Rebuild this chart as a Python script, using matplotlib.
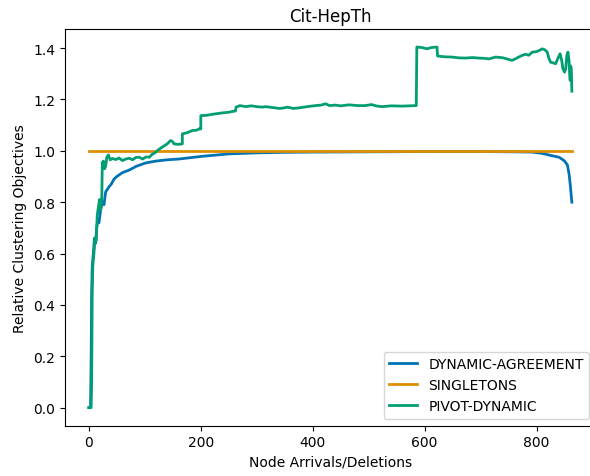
import numpy as np
import matplotlib
matplotlib.use("Agg")
import matplotlib.pyplot as plt

# values
agree_x = [0, 3, 4, 5, 6, 8, 10, 12, 14, 16, 18, 21, 24, 27, 30, 33, 36, 40, 45, 50,
           60, 72, 85, 102, 120, 140, 161, 200, 250, 300, 350, 400, 500, 600, 700,
           760, 792, 810, 827, 840, 845, 850, 855, 858, 860, 863]
agree_y = [0, 0, 0.18, 0.45, 0.55, 0.60, 0.66, 0.64, 0.70, 0.73, 0.72, 0.77, 0.80, 0.79,
           0.84, 0.85, 0.86, 0.87, 0.89, 0.90, 0.915, 0.925, 0.94, 0.953, 0.96, 0.965,
           0.968, 0.978, 0.988, 0.992, 0.994, 0.995, 0.996, 0.997, 0.997, 0.996, 0.995,
           0.99, 0.981, 0.975, 0.968, 0.96, 0.945, 0.91, 0.87, 0.80]

single_x = [0, 863]
single_y = [1.0, 1.0]

pivot_x = [0, 4, 5, 6, 7, 9, 11, 13, 15, 17, 19, 21, 23, 24, 26, 28, 30, 32, 35, 38,
           42, 48, 54, 60, 66, 72, 78, 84, 90, 96, 102, 108, 114, 118, 122, 126, 131,
           135, 140, 146, 150, 152, 160, 167, 167, 175, 185, 192, 197, 200, 200, 210,
           220, 230, 240, 250, 256, 262, 263, 270, 280, 290, 300, 310, 316, 322, 330,
           340, 346, 355, 365, 375, 390, 405, 415, 423, 430, 440, 450, 465, 480, 494,
           505, 515, 524, 540, 560, 575, 585, 586, 595, 604, 612, 622, 623, 635, 649,
           660, 673, 685, 697, 706, 715, 727, 740, 750, 756, 762, 768, 774, 780, 786,
           792, 800, 806, 810, 815, 819, 822, 825, 830, 834, 838, 842, 845, 847, 850,
           852, 854, 856, 858, 859, 860, 861, 862, 863]
pivot_y = [0, 0, 0.10, 0.45, 0.55, 0.60, 0.66, 0.65, 0.75, 0.78, 0.81, 0.77, 0.80, 0.955,
           0.96, 0.93, 0.94, 0.975, 0.984, 0.965, 0.97, 0.966, 0.972, 0.962, 0.968,
           0.971, 0.965, 0.974, 0.975, 0.968, 0.976, 0.975, 0.988, 0.992, 1.0, 1.007,
           1.014, 1.02, 1.027, 1.04, 1.035, 1.027, 1.025, 1.027, 1.066, 1.07, 1.079,
           1.08, 1.085, 1.085, 1.137, 1.138, 1.142, 1.145, 1.148, 1.15, 1.153, 1.155,
           1.17, 1.176, 1.172, 1.175, 1.172, 1.17, 1.172, 1.17, 1.168, 1.165, 1.166,
           1.17, 1.165, 1.167, 1.172, 1.176, 1.178, 1.183, 1.176, 1.178, 1.175, 1.179,
           1.176, 1.176, 1.18, 1.174, 1.172, 1.175, 1.174, 1.175, 1.176, 1.404, 1.402,
           1.397, 1.402, 1.404, 1.369, 1.366, 1.365, 1.362, 1.361, 1.363, 1.361, 1.36,
           1.358, 1.365, 1.362, 1.356, 1.352, 1.358, 1.365, 1.371, 1.376, 1.372, 1.384,
           1.386, 1.392, 1.397, 1.393, 1.384, 1.36, 1.345, 1.342, 1.339, 1.36, 1.378,
           1.35, 1.319, 1.306, 1.32, 1.371, 1.384, 1.35, 1.30, 1.274, 1.33, 1.319, 1.232]

colors = ["#0173B2", "#DE8F05", "#029E73"]

fig = plt.figure(figsize=(5.90, 4.77), dpi=100)
ax = fig.add_axes([0.1097, 0.1055, 0.9005, 0.8316])

ax.plot(agree_x, agree_y, color=colors[0], lw=2, label="DYNAMIC-AGREEMENT")
ax.plot(single_x, single_y, color=colors[1], lw=2, label="SINGLETONS")
ax.plot(pivot_x, pivot_y, color=colors[2], lw=2, label="PIVOT-DYNAMIC")

ax.set_title("Cit-HepTh")
ax.set_xlabel("Node Arrivals/Deletions")
ax.set_ylabel("Relative Clustering Objectives")
ax.set_xticks([0, 200, 400, 600, 800])
ax.set_yticks(np.arange(0, 1.41, 0.2))
ax.legend(loc="lower right")

fig.savefig("out.png", dpi=100)
